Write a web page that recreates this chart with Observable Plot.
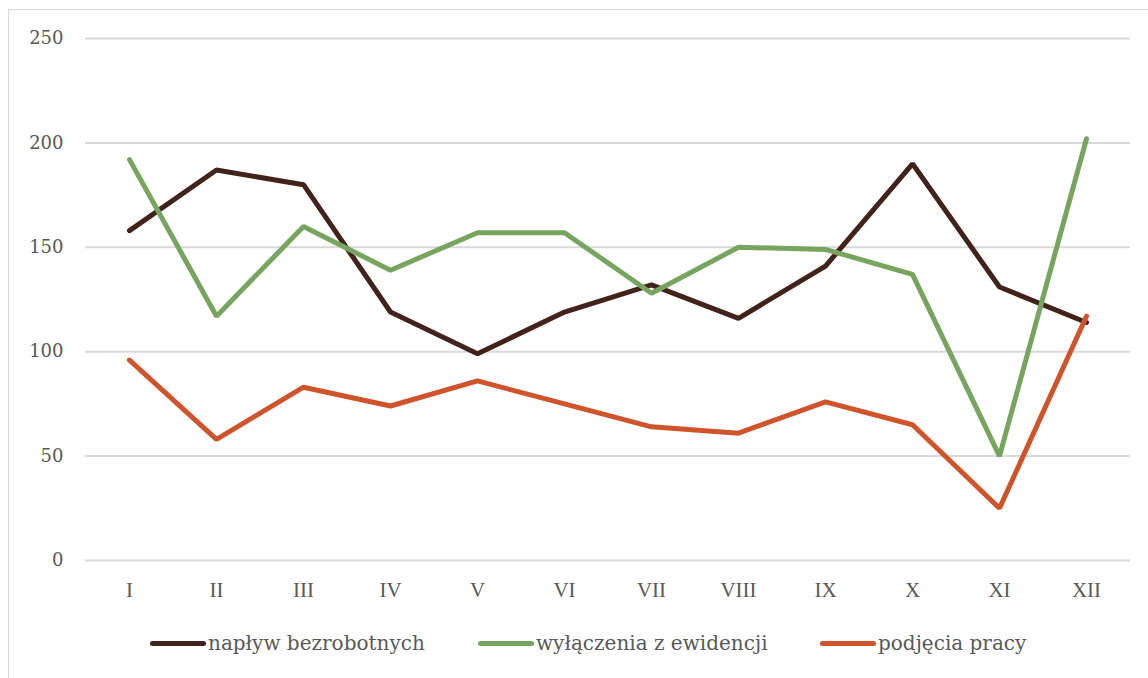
<!DOCTYPE html>
<html><head><meta charset="utf-8">
<script src="https://cdn.jsdelivr.net/npm/d3@7"></script>
<script src="https://cdn.jsdelivr.net/npm/@observablehq/plot@0.6"></script>
<style>
body{margin:0;background:#fff;}
#frame{position:absolute;left:8px;top:9px;width:1160px;height:690px;border:1px solid #d9d9d9;box-sizing:border-box;}
#chart{position:absolute;left:0;top:0;}
#legend{position:absolute;top:631px;left:0;width:1148px;font-family:"DejaVu Serif",serif;font-size:20px;color:#595959;}
.item{position:absolute;display:flex;align-items:center;}
.sw{width:56px;height:5px;border-radius:3px;margin-right:2px;}
</style></head>
<body>
<div id="frame"></div>
<div id="chart"></div>
<div id="legend"></div>
<script>
const months = ["I","II","III","IV","V","VI","VII","VIII","IX","X","XI","XII"];
const naplyw = [158,187,180,119,99,119,132,116,141,190,131,114];
const wylaczenia = [192,117,160,139,157,157,128,150,149,137,50,202];
const podjecia = [96,58,83,74,86,75,64,61,76,65,25,117];
const seriesNames = ["napływ bezrobotnych","wyłączenia z ewidencji","podjęcia pracy"];
const seriesColors = ["#42231b","#77a55f","#d0542b"];
const yTicks = [0,50,100,150,200,250];

const seriesValues = [naplyw, wylaczenia, podjecia];
const data = [];
seriesValues.forEach((vals,si)=>vals.forEach((v,i)=>data.push({month:months[i],value:v,series:seriesNames[si]})));

const plot = Plot.plot({
  width:1148, height:610,
  marginLeft:85, marginRight:18, marginTop:38, marginBottom:50,
  style:{background:"transparent",fontFamily:"'Liberation Serif',serif",color:"#595959"},
  x:{type:"point",domain:months,padding:0.5,label:null,tickSize:0,tickPadding:22},
  y:{domain:[0,250],ticks:yTicks,label:null,tickSize:0,tickPadding:22},
  color:{domain:seriesNames,range:seriesColors},
  marks:[
    Plot.gridY(yTicks,{stroke:"#d9d9d9",strokeOpacity:1,strokeWidth:2}),
    Plot.axisY(yTicks,{tickSize:0,tickPadding:22,fontSize:18,fill:"#595959",fontFamily:"'DejaVu Serif',serif"}),
    Plot.axisX({tickSize:0,tickPadding:22,fontSize:21,fill:"#595959"}),
    Plot.line(data,{x:"month",y:"value",stroke:"series",z:"series",strokeWidth:5,strokeLinejoin:"miter",strokeLinecap:"round"})
  ]
});
document.getElementById("chart").appendChild(plot);

const lg = document.getElementById("legend");
const lefts = [150,478,820];
seriesNames.forEach((n,i)=>{
  const it=document.createElement("div");
  it.className="item"; it.style.left=lefts[i]+"px";
  it.innerHTML=`<span class="sw" style="background:${seriesColors[i]}"></span><span>${n}</span>`;
  lg.appendChild(it);
});
</script>
</body></html>
